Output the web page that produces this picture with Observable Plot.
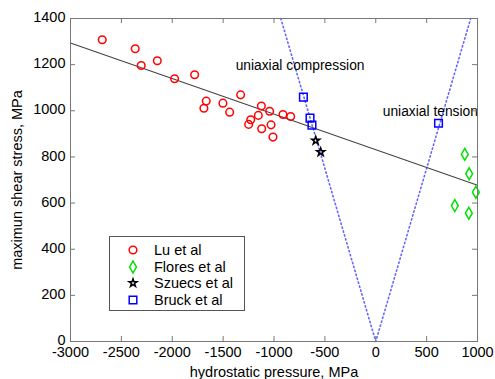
<!DOCTYPE html>
<html><head><meta charset="utf-8">
<script src="https://cdn.jsdelivr.net/npm/d3@7"></script>
<script src="https://cdn.jsdelivr.net/npm/@observablehq/plot@0.6"></script>
<style>
body{margin:0;background:#fff;}
#wrap{position:relative;width:495px;height:379px;font-family:"Liberation Sans",Arial,sans-serif;}
#legend{position:absolute;left:109px;top:236px;width:134px;height:73px;border:1px solid #555;background:#fff;}
.row{position:absolute;left:0;height:16px;font-size:14.5px;line-height:16px;color:#000;}
.row svg{position:absolute;left:15px;top:0;}
.row span{position:absolute;left:44px;top:0;white-space:nowrap;}
</style></head>
<body><div id="wrap"><div id="chart"></div><div id="legend"></div></div>
<script>
// Lu et al (red circles)
const luP = [-2688,-2364,-2305,-2147,-1977,-1780,-1666,-1689,-1502,-1436,-1328,-1124,-1043,-1154,-1229,-1249,-1121,-1029,-1010,-912,-836];
const luT = [1308,1269,1196,1217,1139,1156,1042,1011,1033,994,1069,1021,998,980,961,941,922,939,886,984,975];
// Flores et al (green diamonds)
const floresP = [875,918,984,777,915];
const floresT = [811,727,647,589,556];
// Szuecs et al (black stars)
const szuecsP = [-590,-541];
const szuecsT = [871,821];
// Bruck et al (blue squares)
const bruckP = [-711,-646,-627,617];
const bruckT = [1059,968,938,946];
// fitted line
const fitP = [-3000,1000];
const fitT = [1294,677];
// uniaxial compression / tension lines
const uniP = [-933,0,933];
const uniT = [1400,0,1400];
// annotations
const noteText = ["uniaxial compression","uniaxial tension"];
const noteP = [-1377,69];
const noteT = [1196,997];
// ticks
const xTicks = [-3000,-2500,-2000,-1500,-1000,-500,0,500,1000];
const yTicks = [0,200,400,600,800,1000,1200,1400];
// legend
const legendLabels = ["Lu et al","Flores et al","Szuecs et al","Bruck et al"];
const legendColors = ["#ff0000","#00e000","#000000","#0000ff"];
const legendSymbols = ["circle","diamond","star","square"];
const symbolR = {circle:3.8, diamond:3.6, star:2.5, square:4.3};

const W = 495, H = 379, mL = 70, mR = 18, mT = 18, mB = 38;
const innerW = W - mL - mR, innerH = H - mT - mB;
const zip = (a,b) => a.map((v,i)=>({p:v,t:b[i]}));
const frameColor = "#777";

const chart = Plot.plot({
  width: W, height: H,
  marginLeft: mL, marginRight: mR, marginTop: mT, marginBottom: mB,
  style: {fontFamily: '"Liberation Sans", Arial, sans-serif', fontSize: "14.5px", color: "#000", background: "#fff", overflow: "visible"},
  x: {domain: [-3000,1000]},
  y: {domain: [0,1400]},
  marks: [
    Plot.line(zip(uniP,uniT), {x:"p", y:"t", stroke:"#6464ff", strokeWidth:1.6, strokeDasharray:"1.3 2.8"}),
    Plot.line(zip(fitP,fitT), {x:"p", y:"t", stroke:"#444", strokeWidth:1.1}),
    Plot.dot(zip(luP,luT), {x:"p", y:"t", r:symbolR.circle, symbol:"circle", stroke:"#ff0000", strokeWidth:1.5}),
    Plot.dot(zip(floresP,floresT), {x:"p", y:"t", r:symbolR.diamond, symbol:"diamond", stroke:"#00e000", strokeWidth:1.5}),
    Plot.dot(zip(szuecsP,szuecsT), {x:"p", y:"t", r:symbolR.star, symbol:"star", stroke:"#000", strokeWidth:1.5}),
    Plot.dot(zip(bruckP,bruckT), {x:"p", y:"t", r:symbolR.square, symbol:"square", stroke:"#0000ff", strokeWidth:1.5}),
    Plot.text(noteText.map((s,i)=>({s,p:noteP[i],t:noteT[i]})), {x:"p", y:"t", text:"s", textAnchor:"start", fontSize:13.8, fill:"#000"}),
    Plot.frame({stroke: frameColor}),
    Plot.tickX(xTicks, {x: d=>d, insetTop: innerH-5, stroke: frameColor}),
    Plot.tickX(xTicks, {x: d=>d, insetBottom: innerH-5, stroke: frameColor}),
    Plot.tickY(yTicks, {y: d=>d, insetRight: innerW-5, stroke: frameColor}),
    Plot.tickY(yTicks, {y: d=>d, insetLeft: innerW-5, stroke: frameColor}),
    Plot.axisX(xTicks, {tickSize:0, tickPadding:5, tickFormat: d=>String(d), label:"hydrostatic pressure, MPa", labelAnchor:"center", labelArrow:"none", labelOffset:35, fill:"#000"}),
    Plot.axisY(yTicks, {tickSize:0, tickPadding:5, dy:-1, tickFormat: d=>String(d), label:"maximun shear stress, MPa", labelAnchor:"center", labelArrow:"none", labelOffset:59, fill:"#000"})
  ]
});
document.getElementById("chart").appendChild(chart);

// legend
const lg = document.getElementById("legend");
const rowTops = [5, 21.5, 38, 54.5];
legendLabels.forEach((lab,i)=>{
  const row = document.createElement("div");
  row.className = "row";
  row.style.top = rowTops[i] + "px";
  const name = legendSymbols[i];
  const sym = d3.symbol(d3["symbol" + name[0].toUpperCase() + name.slice(1)], Math.PI*symbolR[name]**2)();
  row.innerHTML = `<svg width="16" height="16"><path transform="translate(8,8)" d="${sym}" fill="none" stroke="${legendColors[i]}" stroke-width="1.5"/></svg><span>${lab}</span>`;
  lg.appendChild(row);
});
</script></body></html>
